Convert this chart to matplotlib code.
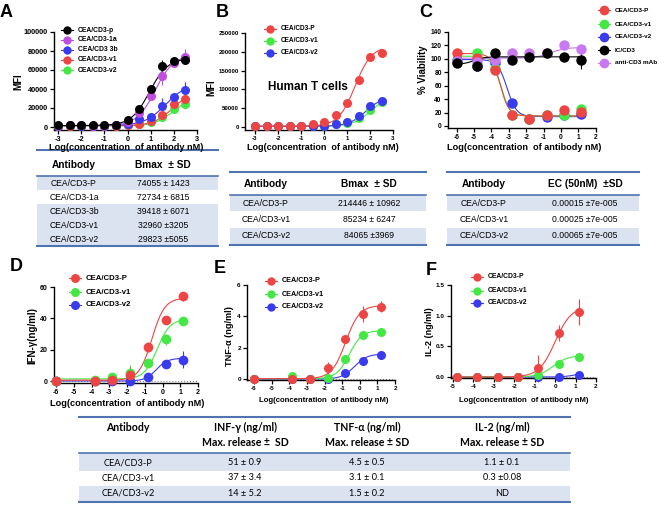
import numpy as np
import matplotlib
matplotlib.use('Agg')
import matplotlib.pyplot as plt
from matplotlib.lines import Line2D
from matplotlib.patches import Rectangle

plt.rcParams['font.family'] = ['Liberation Sans', 'DejaVu Sans']
plt.rcParams['axes.unicode_minus'] = False

# ---------------------------------------------------------------- data
# Panel A (MFI binding)
a_x = [-3, -2.5, -2, -1.5, -1, -0.5, 0, 0.5, 1, 1.5, 2, 2.5]
a_labels = ['CEA/CD3-p', 'CEA/CD3-1a', 'CEA/CD3 3b', 'CEA/CD3-v1', 'CEA/CD3-v2']
a_p = [1800, 2200, 2000, 1800, 1600, 2500, 7800, 18700, 39600, 64700, 69600, 70700]
a_1a = [1500, 1800, 1600, 1500, 1400, 2000, 5000, 15000, 32900, 53700, 67100, 74200]
a_3b = [1500, 1600, 1500, 1400, 1300, 1800, 3500, 8800, 10600, 21900, 31800, 38900]
a_v1 = [1300, 1400, 1300, 1200, 1200, 1500, 2500, 3500, 6400, 12400, 24000, 29000]
a_v2 = [1200, 1300, 1200, 1100, 1100, 1400, 2000, 3000, 5300, 10600, 19400, 23700]
a_p_sd = [0, 0, 0, 0, 0, 0, 500, 1000, 1500, 6000, 1500, 3000]
a_1a_sd = [0, 0, 0, 0, 0, 0, 500, 1000, 5000, 10000, 2000, 7500]
a_3b_sd = [0, 0, 0, 0, 0, 0, 300, 800, 1000, 8500, 3000, 8000]
a_v1_sd = [0, 0, 0, 0, 0, 0, 200, 500, 800, 1500, 2000, 4000]
a_v2_sd = [0, 0, 0, 0, 0, 0, 200, 500, 800, 1500, 1500, 2000]
# 4PL fit (bottom, top, logEC50, hill)
a_p_fit = [1500, 72500, 0.95, 1.1]
a_1a_fit = [1500, 76000, 1.2, 1.1]
a_3b_fit = [1500, 46000, 1.65, 0.95]
a_v1_fit = [1300, 38000, 1.95, 1.05]
a_v2_fit = [1200, 31000, 1.95, 1.1]
a_xticks = [-3, -2, -1, 0, 1, 2, 3]
a_yticks = [0, 20000, 40000, 60000, 80000, 100000]

# Panel B (human T cells)
b_x = [-3, -2.5, -2, -1.5, -1, -0.5, 0, 0.5, 1, 1.5, 2, 2.5]
b_labels = ['CEA/CD3-P', 'CEA/CD3-v1', 'CEA/CD3-v2']
b_p = [2000, 2000, 2000, 2000, 2500, 8900, 13300, 31000, 64900, 124000, 185000, 197000]
b_v1 = [1500, 1500, 1500, 1500, 1800, 2500, 3000, 7000, 11500, 24000, 44000, 66700]
b_v2 = [1500, 1500, 1500, 1500, 1800, 2500, 3200, 7500, 13000, 28400, 55000, 69300]
b_p_sd = [0, 0, 0, 0, 0, 0, 1000, 1500, 2000, 3000, 3000, 10000]
b_v1_sd = [0, 0, 0, 0, 0, 0, 0, 500, 1000, 2000, 2000, 3000]
b_v2_sd = [0, 0, 0, 0, 0, 0, 0, 500, 1000, 2000, 2000, 3000]
b_p_fit = [2000, 215000, 1.35, 1.2]
b_v1_fit = [2000, 85000, 2.05, 1.1]
b_v2_fit = [2000, 80000, 1.8, 1.2]
b_xticks = [-3, -2, -1, 0, 1, 2, 3]
b_yticks = [0, 50000, 100000, 150000, 200000, 250000]

# Panel C (viability)
c_x = [-6, -4.82, -3.82, -2.82, -1.82, -0.82, 0.18, 1.18]
c_labels = ['CEA/CD3-P', 'CEA/CD3-v1', 'CEA/CD3-v2', 'IC/CD3', 'anti-CD3 mAb']
c_p = [109, 102, 83, 16, 10, 16, 24, 21]
c_v1 = [97, 109, 86, 16, 10, 16, 16, 26]
c_v2 = [99, 89, 94, 35, 10, 13, 16, 18]
c_ic = [94, 89, 109, 99, 103, 108, 103, 99]
c_anti = [97, 95, 99, 108, 109, 108, 120, 115]
c_p_sd = [3, 5, 3, 2, 1, 2, 2, 2]
c_v1_sd = [8, 6, 3, 2, 1, 2, 2, 3]
c_v2_sd = [2, 4, 3, 3, 1, 2, 2, 2]
c_ic_sd = [3, 3, 2, 2, 2, 2, 2, 14]
c_anti_sd = [2, 2, 2, 8, 2, 2, 2, 3]
# fit (left plateau, right plateau, log mid, hill)
c_p_fit = [108, 15, -3.5, 1.7]
c_v1_fit = [104, 15, -3.45, 1.7]
c_v2_fit = [99, 14, -3.1, 1.6]
c_ic_fit = [92, 103, -5.0, 1.5]
c_anti_fit = [101, 117, -0.6, 1.0]
c_xticks = [-6, -5, -4, -3, -2, -1, 0, 1, 2]
c_yticks = [0, 20, 40, 60, 80, 100, 120, 140]

# Panels D, E, F (cytokine release)
def_labels = ['CEA/CD3-P', 'CEA/CD3-v1', 'CEA/CD3-v2']
d_x = [-6, -3.82, -2.82, -1.82, -0.82, 0.18, 1.18]
d_p = [0, 0.2, 0.5, 3.9, 21.8, 39.1, 54]
d_v1 = [0.3, 0.5, 2.8, 5.0, 11.5, 26.6, 38]
d_v2 = [0, 0, 0, 0, 2.4, 11, 13.6]
d_p_sd = [0, 0, 0.5, 5, 3, 1, 3]
d_v1_sd = [0, 0, 2.5, 5, 1, 3.5, 1.5]
d_v2_sd = [0, 0, 0, 0, 0.5, 1, 5.5]
d_p_fit = [0.5, 53, -0.6, 1.2]
d_v1_fit = [1.3, 39.5, -0.3, 1.2]
d_v2_fit = [0, 14.5, -0.35, 1.4]
d_yticks = [0, 20, 40, 60]

e_x = [-6, -3.82, -2.82, -1.82, -0.82, 0.18, 1.18]
e_p = [0, 0, 0, 0.7, 2.54, 4.15, 4.6]
e_v1 = [0, 0.17, 0, 0.04, 1.27, 2.82, 3.0]
e_v2 = [0, 0, 0, 0, 0.38, 1.16, 1.53]
e_p_sd = [0, 0, 0, 0.4, 0.1, 0.5, 0.35]
e_v1_sd = [0, 0, 0, 0, 0.1, 0.25, 0.1]
e_v2_sd = [0, 0, 0, 0, 0.05, 0.08, 0.2]
e_p_fit = [0.02, 4.7, -0.8, 1.1]
e_v1_fit = [0.02, 3.1, -0.6, 1.2]
e_v2_fit = [0.0, 1.6, -0.3, 1.2]
e_yticks = [0, 2, 4, 6]

f_x = [-4.82, -3.82, -2.82, -1.82, -0.82, 0.18, 1.18]
f_p = [0, 0, 0, 0, 0.14, 0.71, 1.06]
f_v1 = [0, 0, 0, 0, 0.04, 0.22, 0.32]
f_v2 = [0, 0, 0, 0, 0, 0, 0.04]
f_p_sd = [0, 0, 0, 0, 0.22, 0.13, 0.21]
f_v1_sd = [0, 0, 0, 0, 0, 0.03, 0.05]
f_v2_sd = [0, 0, 0, 0, 0, 0, 0.01]
f_p_fit = [0, 1.15, 0.0, 1.1]
f_v1_fit = [0, 0.35, -0.1, 1.2]
f_v2_fit = [0, 0.07, 1.0, 1.5]
f_yticks = [0, 0.5, 1.0, 1.5]
f_xticks = [-5, -4, -3, -2, -1, 0, 1, 2]
de_xticks = [-6, -5, -4, -3, -2, -1, 0, 1, 2]

# Tables
ta_header = ['Antibody', 'Bmax  ± SD']
ta_names = ['CEA/CD3-P', 'CEA/CD3-1a', 'CEA/CD3-3b', 'CEA/CD3-v1', 'CEA/CD3-v2']
ta_vals = ['74055 ± 1423', '72734 ± 6815', '39418 ± 6071', '32960 ±3205', '29823 ±5055']
tb_header = ['Antibody', 'Bmax  ± SD']
tb_names = ['CEA/CD3-P', 'CEA/CD3-v1', 'CEA/CD3-v2']
tb_vals = ['214446 ± 10962', '85234 ± 6247', '84065 ±3969']
tc_header = ['Antibody', 'EC (50nM)  ±SD']
tc_names = ['CEA/CD3-P', 'CEA/CD3-v1', 'CEA/CD3-v2']
tc_vals = ['0.00015 ±7e-005', '0.00025 ±7e-005', '0.00065 ±7e-005']
td_header1 = ['Antibody', 'INF-γ (ng/ml)', 'TNF-α (ng/ml)', 'IL-2 (ng/ml)']
td_header2 = ['', 'Max. release ±  SD', 'Max. release ± SD', 'Max. release ± SD']
td_names = ['CEA/CD3-P', 'CEA/CD3-v1', 'CEA/CD3-v2']
td_ifn = ['51 ± 0.9', '37 ± 3.4', '14 ± 5.2']
td_tnf = ['4.5 ± 0.5', '3.1 ± 0.1', '1.5 ± 0.2']
td_il2 = ['1.1 ± 0.1', '0.3 ±0.08', 'ND']

# ---------------------------------------------------------------- style
W, H = 666, 512
RED = '#ee4444'
GREEN = '#44e844'
BLUE = '#3a3aee'
MAG = '#c04ce0'
VIO = '#c878f0'
BLACK = '#000000'
TLINE = '#4f74b0'
TSHADE = '#dbe3f1'

fig = plt.figure(figsize=(6.66, 5.12), dpi=100)


def fx(x):
    return x / W


def fy(y):
    return 1 - y / H


def make_axes(xa, xt0, xv0, xt1, xv1, yb, yt0, yv0, yt1, yv1):
    sx = (xt1 - xt0) / (xv1 - xv0)
    sy = (yt0 - yt1) / (yv1 - yv0)
    ax = fig.add_axes([fx(xa), fy(yb), (xt1 - xa) / W, (yb - yt1) / H])
    ax.set_xlim(xv0 - (xt0 - xa) / sx, xv1)
    ax.set_ylim(yv0 - (yb - yt0) / sy, yv1)
    ax.patch.set_alpha(0)
    for s in ['top', 'right']:
        ax.spines[s].set_visible(False)
    for s in ['left', 'bottom']:
        ax.spines[s].set_linewidth(1.0)
    return ax


def ticks(ax, xt, yt, ylabels, fs):
    ax.set_xticks(xt)
    ax.set_xticklabels([str(v) for v in xt], fontweight='bold', fontsize=fs)
    ax.set_yticks(yt)
    ax.set_yticklabels(ylabels, fontweight='bold', fontsize=fs)
    ax.tick_params(direction='out', length=3, width=0.9, pad=1.5)


def logistic(x, p):
    lo, hi, c, h = p
    return lo + (hi - lo) / (1 + 10 ** ((c - x) * h))


def series(ax, x, y, sd, color, fit, xr, ms):
    xs = np.linspace(xr[0], xr[1], 200)
    ax.plot(xs, logistic(xs, fit), color=color, lw=0.8, zorder=2, clip_on=False)
    ax.errorbar(x, y, yerr=sd, fmt='o', color=color, ms=ms, mew=0,
                elinewidth=0.8, capsize=2, capthick=0.8, clip_on=False, zorder=3)


def legend(xm, xt, ys, labels, colors, fs, ms):
    for y, lab, c in zip(ys, labels, colors):
        fig.add_artist(Line2D([fx(xm - 6), fx(xm + 6)], [fy(y), fy(y)], color=c, lw=0.8))
        fig.add_artist(Line2D([fx(xm)], [fy(y)], marker='o', color=c, ms=ms, mew=0))
        fig.text(fx(xt), fy(y), lab, fontsize=fs, fontweight='bold', va='center', ha='left')


def letter(x, y, s):
    fig.text(fx(x), fy(y), s, fontsize=13, fontweight='bold', ha='left', va='top')


def ylab(x, y, s, fs):
    fig.text(fx(x), fy(y), s, fontsize=fs, fontweight='bold', rotation=90, ha='center', va='center')


def xlab(x, y, s, fs):
    fig.text(fx(x), fy(y), s, fontsize=fs, fontweight='bold', ha='center', va='center')


def hline(x0, x1, y, lw):
    fig.add_artist(Line2D([fx(x0), fx(x1)], [fy(y), fy(y)], color=TLINE, lw=lw))


def shade(x0, x1, y0, y1):
    fig.add_artist(Rectangle((fx(x0), fy(y1)), (x1 - x0) / W, (y1 - y0) / H,
                             facecolor=TSHADE, edgecolor='none', zorder=0))


XLABEL = 'Log(concentration  of antibody nM)'

# ---------------------------------------------------------------- A
ax = make_axes(54, 58, -3, 197, 3, 130, 127, 0, 32, 100000)
ticks(ax, a_xticks, a_yticks, [str(v) for v in a_yticks], 5.3)
for y, sd, c, fit in [(a_v2, a_v2_sd, GREEN, a_v2_fit), (a_v1, a_v1_sd, RED, a_v1_fit),
                      (a_3b, a_3b_sd, BLUE, a_3b_fit), (a_1a, a_1a_sd, MAG, a_1a_fit),
                      (a_p, a_p_sd, BLACK, a_p_fit)]:
    series(ax, a_x, y, sd, c, fit, (a_x[0], a_x[-1]), 6.5)
letter(0, 4, 'A')
ylab(18, 82, 'MFI', 7)
xlab(126, 147, XLABEL, 6.6)
legend(67, 78, [30, 39.5, 49.5, 59.5, 70], a_labels, [BLACK, MAG, BLUE, RED, GREEN], 4.9, 6)

# ---------------------------------------------------------------- B
ax = make_axes(245, 255, -3, 393, 3, 130, 127, 0, 33, 250000)
ticks(ax, b_xticks, b_yticks, [str(v) for v in b_yticks], 4.4)
for y, sd, c, fit in [(b_v1, b_v1_sd, GREEN, b_v1_fit), (b_v2, b_v2_sd, BLUE, b_v2_fit),
                      (b_p, b_p_sd, RED, b_p_fit)]:
    series(ax, b_x, y, sd, c, fit, (b_x[0], b_x[-1]), 6.5)
letter(216, 4, 'B')
ylab(211, 88, 'MFI', 7)
xlab(323, 147, XLABEL, 6.5)
legend(270, 281, [29, 41, 53], b_labels, [RED, GREEN, BLUE], 4.7, 6)
fig.text(fx(308), fy(87), 'Human T cells', fontsize=8.5, fontweight='bold', ha='center', va='center')

# ---------------------------------------------------------------- C
ax = make_axes(448, 456.7, -6, 595.7, 2, 128, 126, 0, 32, 140)
ticks(ax, c_xticks, c_yticks, [str(v) for v in c_yticks], 4.8)
for y, sd, c, fit in [(c_v2, c_v2_sd, BLUE, c_v2_fit), (c_v1, c_v1_sd, GREEN, c_v1_fit),
                      (c_p, c_p_sd, RED, c_p_fit), (c_anti, c_anti_sd, VIO, c_anti_fit),
                      (c_ic, c_ic_sd, BLACK, c_ic_fit)]:
    series(ax, c_x, y, sd, c, fit, (c_x[0], c_x[-1]), 7.5)
letter(419, 4, 'C')
ylab(423, 70, '% Viability', 7)
xlab(524, 147, XLABEL, 6.6)
legend(604, 615, [10, 24, 37, 50, 63], c_labels, [RED, GREEN, BLUE, BLACK, VIO], 4.6, 7)

# ---------------------------------------------------------------- D
ax = make_axes(54, 56, -6, 198, 2, 383, 381, 0, 287, 60)
ticks(ax, de_xticks, d_yticks, [str(v) for v in d_yticks], 5)
ax.axhline(0, color='#888888', ls=':', lw=0.8, zorder=1)
for y, sd, c, fit in [(d_v2, d_v2_sd, BLUE, d_v2_fit), (d_v1, d_v1_sd, GREEN, d_v1_fit),
                      (d_p, d_p_sd, RED, d_p_fit)]:
    series(ax, d_x, y, sd, c, fit, (d_x[0], d_x[-1]), 7)
letter(10, 258, 'D')
ylab(32, 335, 'IFN-γ(ng/ml)', 7)
xlab(127, 404, XLABEL, 6.6)
legend(75, 86, [278, 292, 305], def_labels, [RED, GREEN, BLUE], 5.6, 6.5)

# ---------------------------------------------------------------- E
ax = make_axes(247, 254, -6, 395, 2, 380, 379, 0, 285, 6)
ticks(ax, de_xticks, e_yticks, [str(v) for v in e_yticks], 4.6)
ax.axhline(0, color='#888888', ls=':', lw=0.8, zorder=1)
for y, sd, c, fit in [(e_v2, e_v2_sd, BLUE, e_v2_fit), (e_v1, e_v1_sd, GREEN, e_v1_fit),
                      (e_p, e_p_sd, RED, e_p_fit)]:
    series(ax, e_x, y, sd, c, fit, (e_x[0], e_x[-1]), 6.5)
letter(214, 260, 'E')
ylab(230, 336, 'TNF-α (ng/ml)', 6.6)
xlab(324, 401, XLABEL, 5.6)
legend(271, 282, [281, 294, 307], def_labels, [RED, GREEN, BLUE], 5.2, 6)

# ---------------------------------------------------------------- F
ax = make_axes(451, 453, -5, 596, 2, 378, 377, 0, 285, 1.5)
ticks(ax, f_xticks, f_yticks, ['%.1f' % v for v in f_yticks], 4.6)
ax.axhline(0, color='#888888', ls=':', lw=0.8, zorder=1)
for y, sd, c, fit in [(f_v2, f_v2_sd, BLUE, f_v2_fit), (f_v1, f_v1_sd, GREEN, f_v1_fit),
                      (f_p, f_p_sd, RED, f_p_fit)]:
    series(ax, f_x, y, sd, c, fit, (-5, f_x[-1]), 6.5)
letter(426, 262, 'F')
ylab(430, 332, 'IL-2 (ng/ml)', 6.5)
xlab(524, 400, XLABEL, 5.6)
legend(477, 488, [277, 291, 303], def_labels, [RED, GREEN, BLUE], 4.9, 6)

# ---------------------------------------------------------------- Table A
ta_rows = [183, 197, 211, 225, 239]
for i in [0, 2, 3, 4]:
    shade(37, 218, ta_rows[i] - 7, ta_rows[i] + 7)
hline(37, 218, 150, 1.5)
hline(37, 218, 176, 1.2)
hline(37, 218, 246, 1.5)
for cx, h in zip([74, 163], ta_header):
    fig.text(fx(cx), fy(165), h, fontsize=7.3, fontweight='bold', ha='center', va='center')
for y, n, v in zip(ta_rows, ta_names, ta_vals):
    fig.text(fx(74), fy(y), n, fontsize=6.2, ha='center', va='center')
    fig.text(fx(163), fy(y), v, fontsize=6.2, ha='center', va='center')

# ---------------------------------------------------------------- Tables B, C
tbc_rows = [203, 219.5, 236]
for (x0, x1, c1, c2, hdr, names, vals) in [(230, 426, 266, 369, tb_header, tb_names, tb_vals),
                                           (447, 639, 484, 585, tc_header, tc_names, tc_vals)]:
    shade(x0, x1, 195, 211)
    shade(x0, x1, 228, 244)
    hline(x0, x1, 172, 1.5)
    hline(x0, x1, 195, 1.2)
    hline(x0, x1, 244.5, 1.5)
    fig.text(fx(c1), fy(184), hdr[0], fontsize=7.3, fontweight='bold', ha='center', va='center')
    fig.text(fx(c2), fy(184), hdr[1], fontsize=7.3, fontweight='bold', ha='center', va='center')
    for y, n, v in zip(tbc_rows, names, vals):
        fig.text(fx(c1), fy(y), n, fontsize=6.2, ha='center', va='center')
        fig.text(fx(c2), fy(y), v, fontsize=6.2, ha='center', va='center')

# ---------------------------------------------------------------- Bottom table
LATO = ['Lato', 'DejaVu Sans']
td_rows = [462.5, 478, 493.5]
td_cols = [128, 245, 367, 502]
shade(79, 570, 453, 470.5)
shade(79, 570, 486, 501)
hline(79, 570, 417, 1.5)
hline(79, 570, 452.5, 1.2)
hline(79, 570, 501.5, 1.5)
for cx, h1, h2 in zip(td_cols, td_header1, td_header2):
    fig.text(fx(cx), fy(427.5), h1, fontsize=7.6, fontweight='bold', family=LATO, ha='center', va='center')
    if h2:
        fig.text(fx(cx), fy(442.5), h2, fontsize=7.6, fontweight='bold', family=LATO, ha='center', va='center')
for i, y in enumerate(td_rows):
    for cx, col in zip(td_cols, [td_names, td_ifn, td_tnf, td_il2]):
        fig.text(fx(cx), fy(y), col[i], fontsize=6.6, family=LATO, ha='center', va='center')

fig.savefig('out.png', dpi=100)
